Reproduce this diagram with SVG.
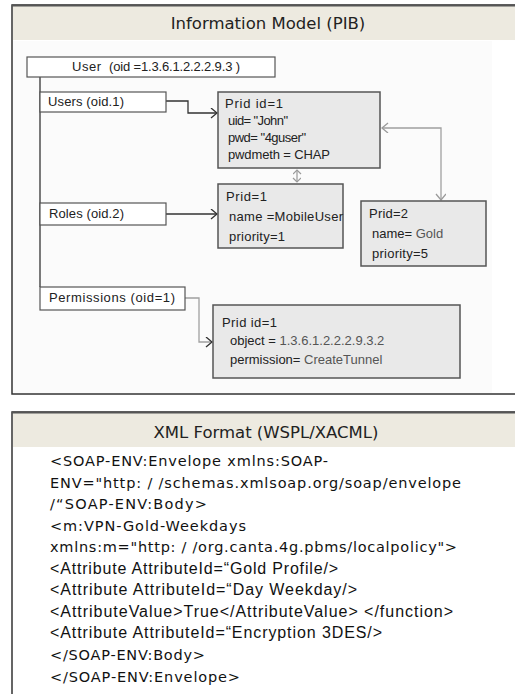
<svg xmlns="http://www.w3.org/2000/svg" width="515" height="694" viewBox="0 0 515 694">
  <style>
    .panel { fill: #ffffff; stroke: #333333; stroke-width: 1.5; }
    .band { fill: #edeae0; }
    .title { font-family: "DejaVu Sans", "Liberation Sans", sans-serif; font-size: 16.5px; fill: #222222; text-anchor: middle; }
    .lbl { fill: #ffffff; stroke: #555555; stroke-width: 1.2; }
    .rec { fill: #e9e9e9; stroke: #555555; stroke-width: 1.5; }
    .t { font-family: "Liberation Sans", Arial, sans-serif; font-size: 13px; fill: #222222; }
    .v { fill: #555555; }
    .x1 { font-family: "DejaVu Sans", "Noto Sans", sans-serif; font-size: 14.5px; fill: #111111; }
    .x2 { font-family: "Liberation Sans", Arial, sans-serif; font-size: 16px; fill: #111111; }
    .dk { fill: none; stroke: #333333; stroke-width: 1.3; }
    .lt { fill: none; stroke: #a0a0a0; stroke-width: 1.3; }
  </style>
  <defs>
    <marker id="arrDark" markerWidth="10" markerHeight="12" refX="7" refY="5" orient="auto" markerUnits="userSpaceOnUse">
      <path d="M1,0 L7,5 L1,10" fill="none" stroke="#333333" stroke-width="1.3"/>
    </marker>
    <marker id="arrLight" markerWidth="10" markerHeight="12" refX="7" refY="5" orient="auto-start-reverse" markerUnits="userSpaceOnUse">
      <path d="M1,0 L7,5 L1,10" fill="none" stroke="#9a9a9a" stroke-width="1.3"/>
    </marker>
    <marker id="arrSmall" markerWidth="8" markerHeight="10" refX="5" refY="4" orient="auto-start-reverse" markerUnits="userSpaceOnUse">
      <path d="M1,0 L5,4 L1,8" fill="none" stroke="#9a9a9a" stroke-width="1.2"/>
    </marker>
  </defs>

  <rect width="515" height="694" fill="#ffffff"/>

  <!-- Information model panel -->
  <g id="panel-pib">
    <rect class="panel" x="12" y="5" width="520" height="389"/>
    <rect class="band" x="13" y="6" width="520" height="34"/>
    <line x1="12" y1="5.5" x2="515" y2="5.5" stroke="#555555" stroke-width="2"/>
    <rect x="13" y="41" width="479" height="352" fill="#fbfbfb"/>
    <text class="title" x="268" y="29">Information Model (PIB)</text>
  </g>

  <!-- XML panel -->
  <g id="panel-xml">
    <rect class="panel" x="12" y="412" width="520" height="300"/>
    <rect class="band" x="13" y="413" width="520" height="34"/>
    <line x1="12" y1="412.5" x2="515" y2="412.5" stroke="#555555" stroke-width="2"/>
    <text class="title" x="266" y="438">XML Format (WSPL/XACML)</text>
  </g>

  <!-- connectors -->
  <g id="connectors">
    <line class="dk" x1="40" y1="77" x2="40" y2="287"/>
    <polyline class="dk" points="166,101 188,101 188,113 217,113" marker-end="url(#arrDark)"/>
    <polyline class="dk" points="166,214 217,214" marker-end="url(#arrDark)"/>
    <polyline class="lt" points="185,298 199,298 199,342 212,342" marker-end="url(#arrDark)"/>
    <polyline class="lt" points="297,170 297,182" marker-start="url(#arrSmall)" marker-end="url(#arrSmall)"/>
    <polyline class="lt" points="382,128 441,128 441,200" marker-start="url(#arrLight)" marker-end="url(#arrLight)"/>
  </g>

  <g id="user">
    <rect class="lbl" x="27" y="57" width="248" height="20"/>
    <text class="t" x="72" y="71" textLength="29">User</text>
    <text class="t" x="109" y="71" textLength="131">(oid =1.3.6.1.2.2.2.9.3 )</text>
  </g>

  <g id="users">
    <rect class="lbl" x="40" y="92" width="126" height="20"/>
    <text class="t" x="48" y="106" textLength="76">Users (oid.1)</text>
  </g>

  <g id="roles">
    <rect class="lbl" x="40" y="203" width="126" height="22"/>
    <text class="t" x="49" y="218" textLength="75">Roles (oid.2)</text>
  </g>

  <g id="permissions">
    <rect class="lbl" x="40" y="287" width="145" height="23"/>
    <text class="t" x="49" y="302" textLength="126">Permissions (oid=1)</text>
  </g>

  <g id="prid-user">
    <rect class="rec" x="218" y="92" width="162" height="76"/>
    <text class="t" x="225" y="108" textLength="58">Prid id=1</text>
    <text class="t" x="228" y="125" textLength="60">uid= "John"</text>
    <text class="t" x="228" y="142" textLength="78">pwd= "4guser"</text>
    <text class="t" x="228" y="159" textLength="102">pwdmeth = CHAP</text>
  </g>

  <g id="prid-role1">
    <rect class="rec" x="218" y="184" width="125" height="64"/>
    <text class="t" x="226" y="201" textLength="41">Prid=1</text>
    <text class="t" x="229" y="221" textLength="114">name =MobileUser</text>
    <text class="t" x="229" y="241" textLength="56">priority=1</text>
  </g>

  <g id="prid-role2">
    <rect class="rec" x="361" y="201" width="125" height="65"/>
    <text class="t" x="369" y="218" textLength="39">Prid=2</text>
    <text class="t" x="372" y="238">name= <tspan class="v">Gold</tspan></text>
    <text class="t" x="372" y="258" textLength="56">priority=5</text>
  </g>

  <g id="prid-permission">
    <rect class="rec" x="213" y="305" width="247" height="73"/>
    <text class="t" x="222" y="327" textLength="55">Prid id=1</text>
    <text class="t" x="230" y="345">object = <tspan class="v">1.3.6.1.2.2.2.9.3.2</tspan></text>
    <text class="t" x="230" y="364">permission= <tspan class="v">CreateTunnel</tspan></text>
  </g>

  <!-- policy document -->
  <g id="xml-text">
    <text class="x1" x="50" y="466" textLength="278">&lt;SOAP-ENV:Envelope xmlns:SOAP-</text>
    <text class="x1" x="50" y="488" textLength="411">ENV="http: / /schemas.xmlsoap.org/soap/envelope</text>
    <text class="x1" x="50" y="509" textLength="157">/“SOAP-ENV:Body&gt;</text>
    <text class="x1" x="50" y="531" textLength="196">&lt;m:VPN-Gold-Weekdays</text>
    <text class="x1" x="50" y="552" textLength="407">xmlns:m="http: / /org.canta.4g.pbms/localpolicy"&gt;</text>
    <text class="x2" x="50" y="574" textLength="288">&lt;Attribute AttributeId=“Gold Profile/&gt;</text>
    <text class="x2" x="50" y="595" textLength="307">&lt;Attribute AttributeId=“Day Weekday/&gt;</text>
    <text class="x2" x="50" y="617" textLength="403">&lt;AttributeValue&gt;True&lt;/AttributeValue&gt; &lt;/function&gt;</text>
    <text class="x2" x="50" y="638" textLength="332">&lt;Attribute AttributeId=“Encryption 3DES/&gt;</text>
    <text class="x1" x="50" y="660" textLength="155">&lt;/SOAP-ENV:Body&gt;</text>
    <text class="x1" x="50" y="682" textLength="190">&lt;/SOAP-ENV:Envelope&gt;</text>
  </g>
</svg>
